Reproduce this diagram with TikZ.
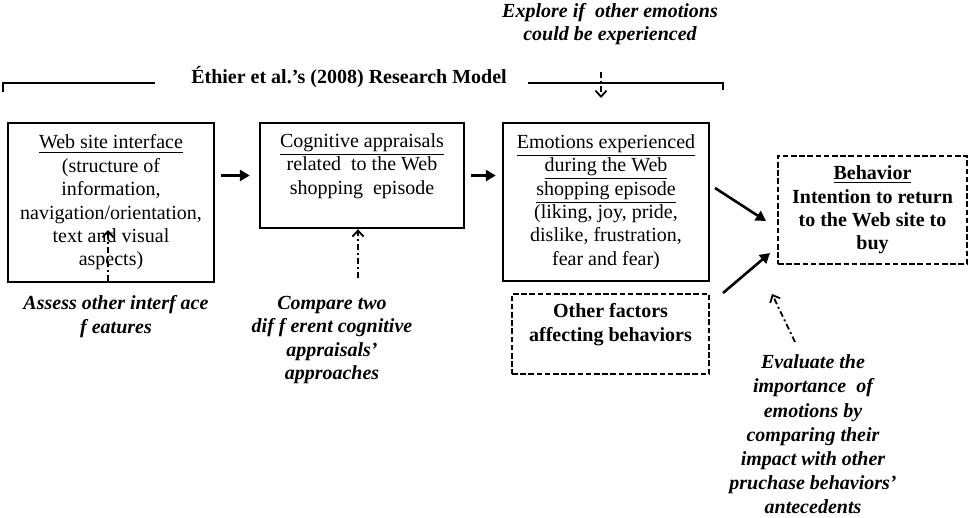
\documentclass[tikz,border=0pt]{standalone}
\usepackage{fontspec}
\setmainfont{Liberation Serif}
\usetikzlibrary{arrows.meta}
\usetikzlibrary{positioning}

\begin{document}
\begin{tikzpicture}[x=0.5pt,y=-0.5pt,
  every node/.style={font=\fontsize{10}{11.7}\selectfont},
  box/.style={draw,line width=1.2pt,align=center,inner sep=1pt},
  dbox/.style={draw,line width=0.9pt,dash pattern=on 2.8pt off 1.3pt,align=center,inner sep=1pt,
    font=\fontsize{10}{11.7}\selectfont\bfseries},
  note/.style={align=center,font=\fontsize{10}{11.7}\selectfont\bfseries\itshape},
  flow/.style={-{Triangle[length=5pt,width=5.5pt]},line width=1.3pt},
  probe/.style={-{Straight Barb[length=3pt,width=5.5pt]},line width=0.9pt,
    dash pattern=on 3pt off 1.5pt on 1pt off 1.5pt}]

  \useasboundingbox (0,0) rectangle (969,518);

  % model boxes
  \node[box,minimum width=103pt,minimum height=79.5pt] (web) at (111,202.5)
    {\underline{Web site interface}\\(structure of\\information,\\navigation/orientation,\\text and visual\\aspects)};
  \node[box,minimum width=102pt,minimum height=52.5pt] (cog) at (362,175.5)
    {\underline{Cognitive appraisals}\\related\ \ to the Web\\shopping\ \ episode\\\mbox{}};
  \node[box,minimum width=103pt,minimum height=79pt] (emo) at (606,202)
    {\underline{Emotions experienced}\\\underline{during the Web}\\\underline{shopping episode}\\(liking, joy, pride,\\dislike, frustration,\\fear and fear)};
  \node[dbox,minimum width=94.5pt,minimum height=54pt] (beh) at (872.5,210)
    {\underline{Behavior}\\Intention to return\\to the Web site to\\buy};
  \node[dbox,minimum width=98.5pt,minimum height=40pt] (other) at (610.5,334)
    {Other factors\\affecting behaviors\\\mbox{}};

  % research model bracket
  \node[font=\fontsize{10}{11.7}\selectfont\bfseries] (title) at (349,77)
    {Éthier et al.'s (2008) Research Model};
  \coordinate (bl) at (3,92);
  \coordinate (blt) at (3,83);
  \coordinate (blr) at (155,83);
  \coordinate (brl) at (528,83);
  \coordinate (brt) at (723,83);
  \coordinate (br) at (723,90);
  \draw[line width=0.9pt] (bl) -- (blt) -- (blr);
  \draw[line width=0.9pt] (brl) -- (brt) -- (br);

  % main flow
  \draw[flow,shorten <=3pt,shorten >=4.5pt] (web.east |- cog.west) -- (cog.west);
  \draw[flow,shorten <=3pt,shorten >=3pt] (cog.east) -- (cog.east -| emo.west);
  \coordinate (e1) at (715,188);
  \coordinate (e2) at (766,221);
  \coordinate (o1) at (723,293);
  \coordinate (o2) at (770,253);
  \draw[flow] (e1) -- (e2);
  \draw[flow] (o1) -- (o2);

  % extensions
  \node[note] (explore) at (610,24) {Explore if\ \ other emotions\\could be experienced};
  \coordinate (x1) at (601,72);
  \coordinate (x2) at (601,98);
  \draw[probe] (x1) -- (x2);

  \node[note] (assess) at (116,316.5) {Assess other interf ace\\f eatures};
  \coordinate (a1) at (108,281);
  \coordinate (a2) at (108,230);
  \draw[probe] (a1) -- (a2);

  \node[note] (compare) at (332,340) {Compare two\\dif f erent cognitive\\appraisals'\\approaches};
  \coordinate (c1) at (358,278);
  \draw[probe] (c1) -- (c1 |- cog.south);

  \node[note,font=\fontsize{10}{12.1}\selectfont\bfseries\itshape] (evaluate) at (813,434.5)
    {Evaluate the\\importance\ \ of\\emotions by\\comparing their\\impact with other\\pruchase behaviors'\\antecedents};
  \coordinate (v1) at (795,342);
  \coordinate (v2) at (772,294);
  \draw[probe] (v1) -- (v2);

\end{tikzpicture}
\end{document}
